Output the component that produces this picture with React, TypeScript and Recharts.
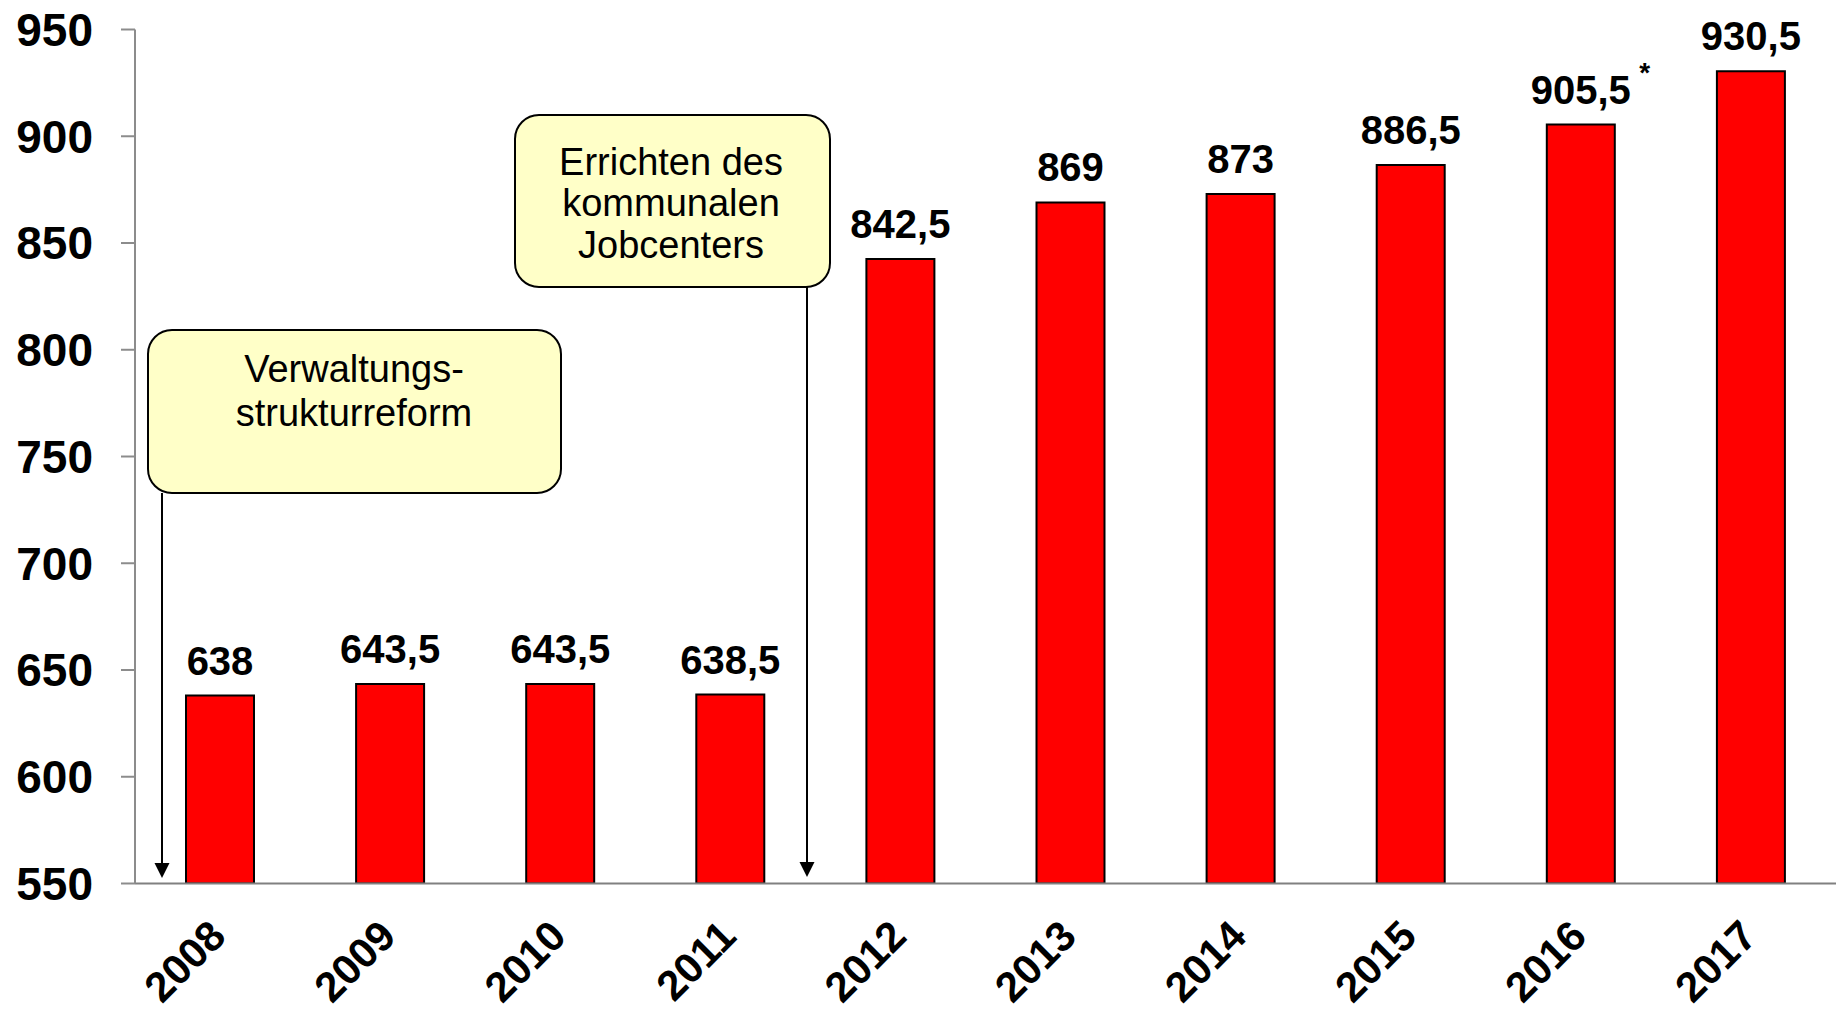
import { BarChart, Bar, XAxis, YAxis, LabelList } from "recharts";

const years = ["2008", "2009", "2010", "2011", "2012", "2013", "2014", "2015", "2016", "2017"];
const stellen = [638, 643.5, 643.5, 638.5, 842.5, 869, 873, 886.5, 905.5, 930.5];
const notes = ["", "", "", "", "", "", "", "", "*", ""];
const yTicks = [550, 600, 650, 700, 750, 800, 850, 900, 950];

const data = years.map((year, i) => ({ year, value: stellen[i], note: notes[i] }));

const FONT = "'Liberation Sans', Arial, Helvetica, sans-serif";

function YearTick({ x, y, payload }: any) {
  return (
    <text
      x={x + 8}
      y={y + 55}
      transform={`rotate(-45, ${x + 8}, ${y + 55})`}
      textAnchor="end"
      fontFamily={FONT}
      fontSize={42}
      fontWeight="bold"
      fill="#000"
    >
      {payload.value}
    </text>
  );
}

function ValueLabel({ x, y, width, value, index }: any) {
  const cx = x + width / 2;
  const note = notes[index];
  return (
    <g>
      <text x={cx} y={y - 21} textAnchor="middle" fontFamily={FONT} fontSize={40} fontWeight="bold" fill="#000">
        {String(value).replace(".", ",")}
      </text>
      {note && (
        <text x={cx + 64} y={y - 43} textAnchor="middle" fontFamily={FONT} fontSize={28} fontWeight="bold" fill="#000">
          {note}
        </text>
      )}
    </g>
  );
}

function Callouts() {
  // Textboxen mit Pfeilen (Overlay über dem Diagramm)
  return (
    <svg width={1845} height={1014} style={{ position: "absolute", left: 0, top: 0, pointerEvents: "none" }}>
      <line x1={162} y1={493} x2={162} y2={864} stroke="#000" strokeWidth={2} />
      <path d="M154.5,863 L169.5,863 L162,878 Z" fill="#000" />
      <line x1={807} y1={287} x2={807} y2={864} stroke="#000" strokeWidth={2} />
      <path d="M799.5,862 L814.5,862 L807,877 Z" fill="#000" />

      <rect x={148} y={330} width={413} height={163} rx={24} ry={24} fill="#FFFFC8" stroke="#000" strokeWidth={2} />
      <text x={354} textAnchor="middle" fontFamily={FONT} fontSize={38} fill="#000">
        <tspan x={354} y={382}>Verwaltungs-</tspan>
        <tspan x={354} y={426}>strukturreform</tspan>
      </text>

      <rect x={515} y={115} width={315} height={172} rx={24} ry={24} fill="#FFFFC8" stroke="#000" strokeWidth={2} />
      <text x={671} textAnchor="middle" fontFamily={FONT} fontSize={38} fill="#000">
        <tspan x={671} y={175}>Errichten des</tspan>
        <tspan x={671} y={216}>kommunalen</tspan>
        <tspan x={671} y={258}>Jobcenters</tspan>
      </text>
    </svg>
  );
}

export default function App() {
  return (
    <div style={{ position: "absolute", left: 0, top: 0, width: 1845, height: 1014, background: "#fff", overflow: "hidden" }}>
      <BarChart width={1845} height={1014} data={data} margin={{ top: 29.5, right: 9, left: 0, bottom: 0 }}>
        <XAxis
          dataKey="year"
          height={130.5}
          tick={<YearTick />}
          tickLine={false}
          tickSize={0}
          tickMargin={0}
          axisLine={{ stroke: "#808080", strokeWidth: 2 }}
          interval={0}
        />
        <YAxis
          width={135}
          domain={[550, 950]}
          ticks={yTicks}
          interval={0}
          allowDataOverflow
          tickSize={14}
          tickMargin={28}
          tickLine={{ stroke: "#8c8c8c", strokeWidth: 2 }}
          axisLine={{ stroke: "#8c8c8c", strokeWidth: 2 }}
          tick={{ fill: "#000", fontSize: 46, fontWeight: "bold", fontFamily: FONT }}
        />
        <Bar dataKey="value" fill="#FF0000" stroke="#000" strokeWidth={2} barSize={68} isAnimationActive={false}>
          <LabelList dataKey="value" content={<ValueLabel />} />
        </Bar>
      </BarChart>
      <Callouts />
    </div>
  );
}
